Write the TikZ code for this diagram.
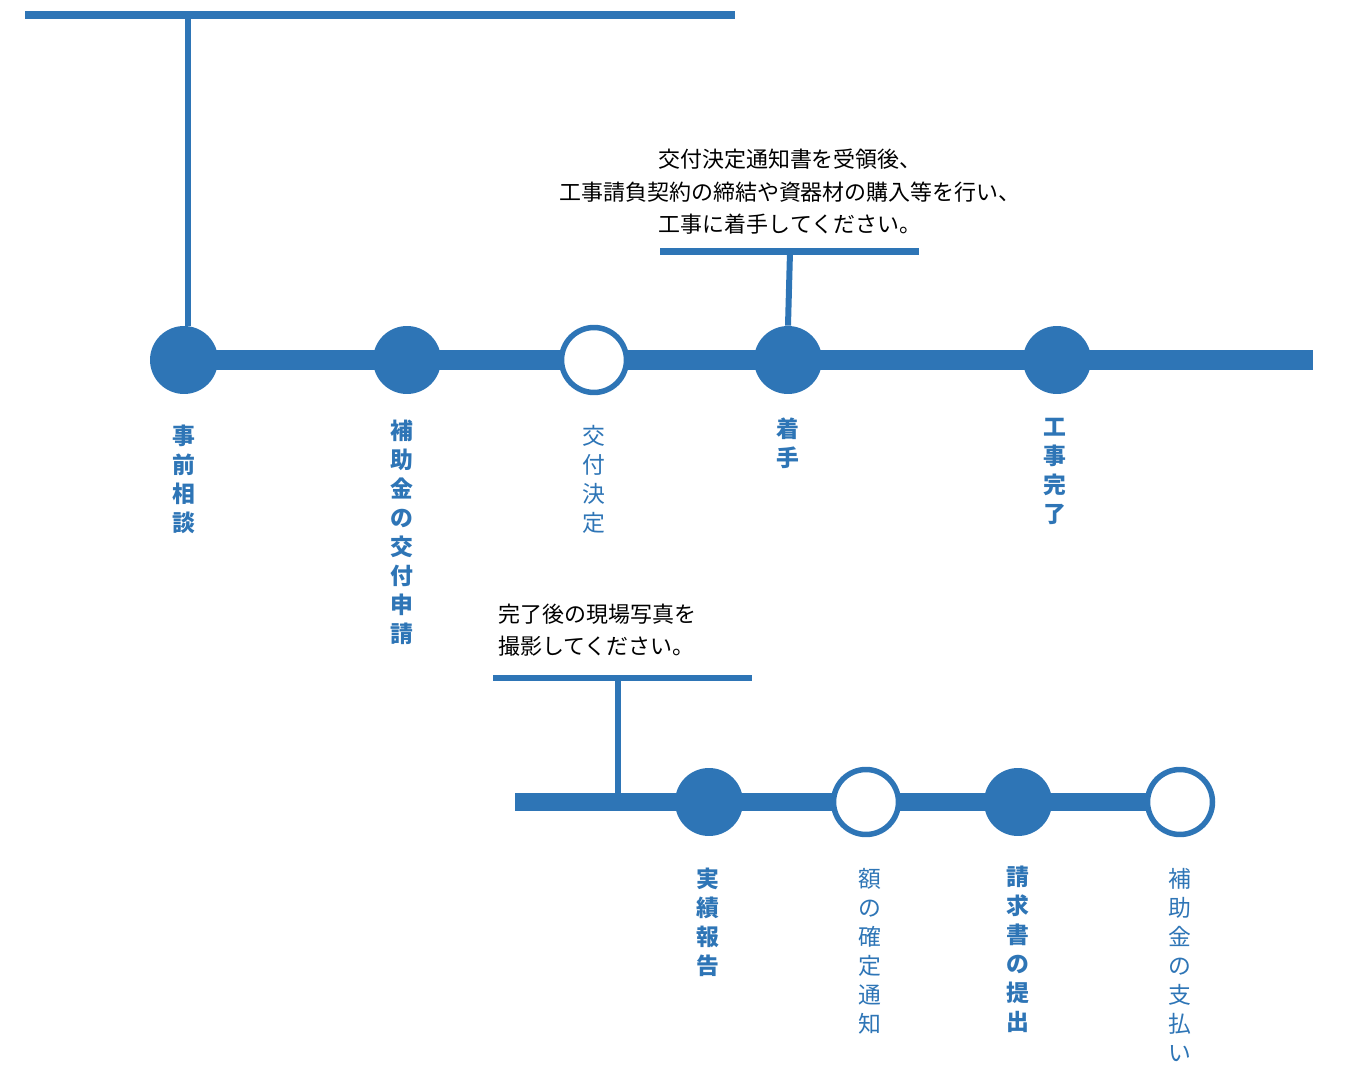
\documentclass[tikz,border=0pt]{standalone}
\usepackage{fontspec}
\newfontfamily\cjk{Noto Sans CJK JP}
\definecolor{flowblue}{HTML}{2E75B6}
\tikzset{
  stepdot/.style={circle, fill=flowblue, minimum size=1.36cm, inner sep=0pt},
  stepopen/.style={circle, draw=flowblue, line width=1.1mm, fill=white, minimum size=1.3cm, inner sep=0pt},
  vlabel/.style={anchor=north, text=flowblue, align=center, inner sep=0pt, font=\cjk\fontsize{13}{16.5}\selectfont},
  vbold/.style={vlabel, font=\cjk\bfseries\fontsize{13}{16.5}\selectfont},
  note/.style={text=black, inner sep=0pt, font=\cjk\fontsize{12.5}{18.5}\selectfont},
}
\begin{document}
\begin{tikzpicture}[x=0.02cm, y=-0.02cm]
\useasboundingbox (0,0) rectangle (1350,1067);
% top bracket
\coordinate (topl) at (25,15);
\coordinate (topr) at (735,15);
\coordinate (topm) at (188,15);
\draw[flowblue, line width=1.5mm] (topl) -- (topr);
% first row
\coordinate (rowaend) at (1313,360);
\coordinate (rowastart) at (184,360);
\draw[flowblue, line width=4mm] (rowastart) -- (rowaend);
\node[stepdot] (soudan) at (184,360) {};
\node[stepdot] (shinsei) at (407,360) {};
\node[stepopen] (kettei) at (594,360) {};
\node[stepdot] (chakushu) at (788,360) {};
\node[stepdot] (kanryou) at (1057,360) {};
\draw[flowblue, line width=1.2mm] (topm) -- (soudan.north -| topm);
\node[vbold] at (184,425) {事\\前\\相\\談};
\node[vbold] at (402,420) {補\\助\\金\\の\\交\\付\\申\\請};
\node[vlabel] at (594,425) {交\\付\\決\\定};
\node[vbold] at (788,418) {着\\手};
\node[vbold] at (1055,418) {工\\事\\完\\了};
% note on start
\node[note, align=center] (notea) at (790,192) {交付決定通知書を受領後、\\工事請負契約の締結や資器材の購入等を行い、\\工事に着手してください。};
\coordinate (notealeft) at (660,252);
\coordinate (notearight) at (919,252);
\coordinate (noteamid) at (790,252);
\draw[flowblue, line width=1.4mm] (notealeft) -- (notearight);
\draw[flowblue, line width=1.2mm] (noteamid) -- (chakushu.north);
% second row
\coordinate (rowbstart) at (515,802);
\draw[flowblue, line width=3.6mm] (rowbstart) -- (1180,802);
\node[stepdot] (houkoku) at (709,802) {};
\node[stepopen] (kakutei) at (866,802) {};
\node[stepdot] (seikyu) at (1018,802) {};
\node[stepopen] (shiharai) at (1180,802) {};
\node[vbold] at (708,868) {実\\績\\報\\告};
\node[vlabel] at (870,868) {額\\の\\確\\定\\通\\知};
\node[vbold] at (1018,866) {請\\求\\書\\の\\提\\出};
\node[vlabel] at (1180,868) {補\\助\\金\\の\\支\\払\\い};
% note on photos
\node[note, align=left, anchor=west] (noteb) at (498,630) {完了後の現場写真を\\撮影してください。};
\coordinate (notebleft) at (493,678);
\coordinate (notebright) at (752,678);
\coordinate (notebmid) at (618,678);
\coordinate (notebfoot) at (618,800);
\draw[flowblue, line width=1.4mm] (notebleft) -- (notebright);
\draw[flowblue, line width=1.2mm] (notebmid) -- (notebfoot);
\end{tikzpicture}
\end{document}
